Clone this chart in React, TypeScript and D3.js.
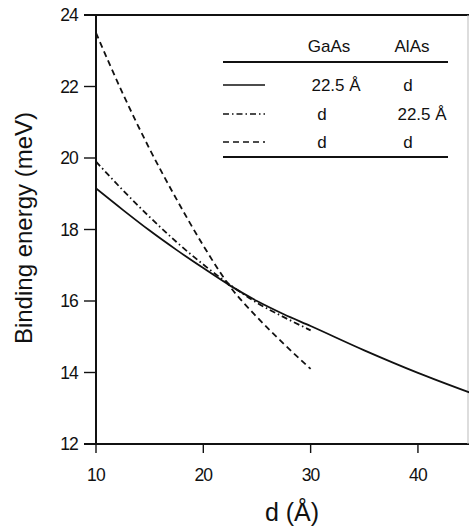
import React from 'react';
import * as d3 from 'd3';

// curves: d (Å) -> binding energy (meV)
const solidD = [10, 12.5, 15, 17.5, 20, 22.5, 25, 27.5, 30, 35, 40, 45];
const solidE = [19.15, 18.55, 17.97, 17.43, 16.92, 16.43, 16.0, 15.63, 15.3, 14.62, 13.99, 13.42];

const dashDotD = [10, 12.5, 15, 17.5, 20, 22.5, 25, 27.5, 30];
const dashDotE = [19.9, 19.1, 18.35, 17.65, 17.02, 16.45, 15.95, 15.55, 15.18];

const dashedD = [10, 12.5, 15, 17.5, 20, 22.5, 25, 27.5, 30];
const dashedE = [23.5, 21.8, 20.25, 18.85, 17.55, 16.4, 15.55, 14.8, 14.1];

const xTicks = [10, 20, 30, 40];
const yTicks = [12, 14, 16, 18, 20, 22, 24];

const legendHeader = ['GaAs', 'AlAs'];
const legendRows = [
  { dash: 'none', gaas: '22.5 Å', alas: 'd' },
  { dash: '6,3,1.5,3', gaas: 'd', alas: '22.5 Å' },
  { dash: '6,4', gaas: 'd', alas: 'd' },
];

const W = 469;
const H = 529;
const font = '"Liberation Sans", Arial, sans-serif';

export default function App() {
  const x = d3.scaleLinear().domain([10, 45]).range([96, 471.6]);
  const y = d3.scaleLinear().domain([12, 24]).range([444, 15]);

  const line = d3
    .line<[number, number]>()
    .x(d => x(d[0]))
    .y(d => y(d[1]))
    .curve(d3.curveMonotoneX);

  const series = [
    { pts: solidD.map((d, i) => [d, solidE[i]] as [number, number]), dash: 'none' },
    { pts: dashDotD.map((d, i) => [d, dashDotE[i]] as [number, number]), dash: '6,3,1.5,3' },
    { pts: dashedD.map((d, i) => [d, dashedE[i]] as [number, number]), dash: '6,4' },
  ];

  const rowY = [85, 114, 142];

  return (
    <div style={{ position: 'absolute', left: 0, top: 0 }}>
      <svg width={W} height={H} style={{ display: 'block', background: '#fff' }}>
        <defs>
          <clipPath id="plot">
            <rect x={96} y={15} width={W - 96} height={429} />
          </clipPath>
        </defs>

        {/* frame */}
        <line x1={84} x2={W} y1={y(24)} y2={y(24)} stroke="#111" strokeWidth={1.8} />
        <line x1={x(10)} x2={x(10)} y1={y(24)} y2={y(12)} stroke="#111" strokeWidth={2} />
        <line x1={84} x2={W} y1={y(12)} y2={y(12)} stroke="#111" strokeWidth={2} />
        <line x1={468} x2={468} y1={15} y2={444} stroke="#bbb" strokeWidth={1} />

        {/* y ticks */}
        {yTicks.map(t => (
          <g key={'y' + t}>
            <line x1={84} x2={96} y1={y(t)} y2={y(t)} stroke="#111" strokeWidth={1.4} />
            <text
              x={78}
              y={y(t)}
              dy="0.36em"
              textAnchor="end"
              fontFamily={font}
              fontSize={17.5}
              letterSpacing={-0.8}
              fill="#111"
            >
              {t}
            </text>
          </g>
        ))}

        {/* x ticks */}
        {xTicks.map(t => (
          <g key={'x' + t}>
            <line x1={x(t)} x2={x(t)} y1={444} y2={453} stroke="#111" strokeWidth={1.4} />
            <text
              x={x(t)}
              y={481}
              textAnchor="middle"
              fontFamily={font}
              fontSize={17.5}
              letterSpacing={-0.8}
              fill="#111"
            >
              {t}
            </text>
          </g>
        ))}

        {/* curves */}
        <g clipPath="url(#plot)">
          {series.map((s, i) => (
            <path
              key={i}
              d={line(s.pts) || ''}
              fill="none"
              stroke="#111"
              strokeWidth={1.8}
              strokeDasharray={s.dash}
            />
          ))}
        </g>

        {/* legend table */}
        <line x1={223} x2={448} y1={62} y2={62} stroke="#111" strokeWidth={2} />
        <line x1={223} x2={448} y1={157} y2={157} stroke="#111" strokeWidth={2} />
        {legendHeader.map((h, i) => (
          <text
            key={h}
            x={[329, 412][i]}
            y={52}
            textAnchor="middle"
            fontFamily={font}
            fontSize={17}
            fill="#111"
          >
            {h}
          </text>
        ))}
        {legendRows.map((r, i) => (
          <g key={'r' + i}>
            <line
              x1={223}
              x2={265}
              y1={rowY[i]}
              y2={rowY[i]}
              stroke="#111"
              strokeWidth={1.6}
              strokeDasharray={r.dash}
            />
            <text
              x={r.gaas === 'd' ? 322 : 336}
              y={rowY[i]}
              dy="0.36em"
              textAnchor="middle"
              fontFamily={font}
              fontSize={17}
              fill="#111"
            >
              {r.gaas}
            </text>
            <text
              x={r.alas === 'd' ? 408 : 422}
              y={rowY[i]}
              dy="0.36em"
              textAnchor="middle"
              fontFamily={font}
              fontSize={17}
              fill="#111"
            >
              {r.alas}
            </text>
          </g>
        ))}

        {/* axis titles */}
        <text
          transform="translate(32,228) rotate(-90)"
          textAnchor="middle"
          fontFamily={font}
          fontSize={24}
          fill="#111"
        >
          Binding energy (meV)
        </text>
        <text
          x={292}
          y={521}
          textAnchor="middle"
          fontFamily={font}
          fontSize={25}
          fill="#111"
        >
          d (Å)
        </text>
      </svg>
    </div>
  );
}
